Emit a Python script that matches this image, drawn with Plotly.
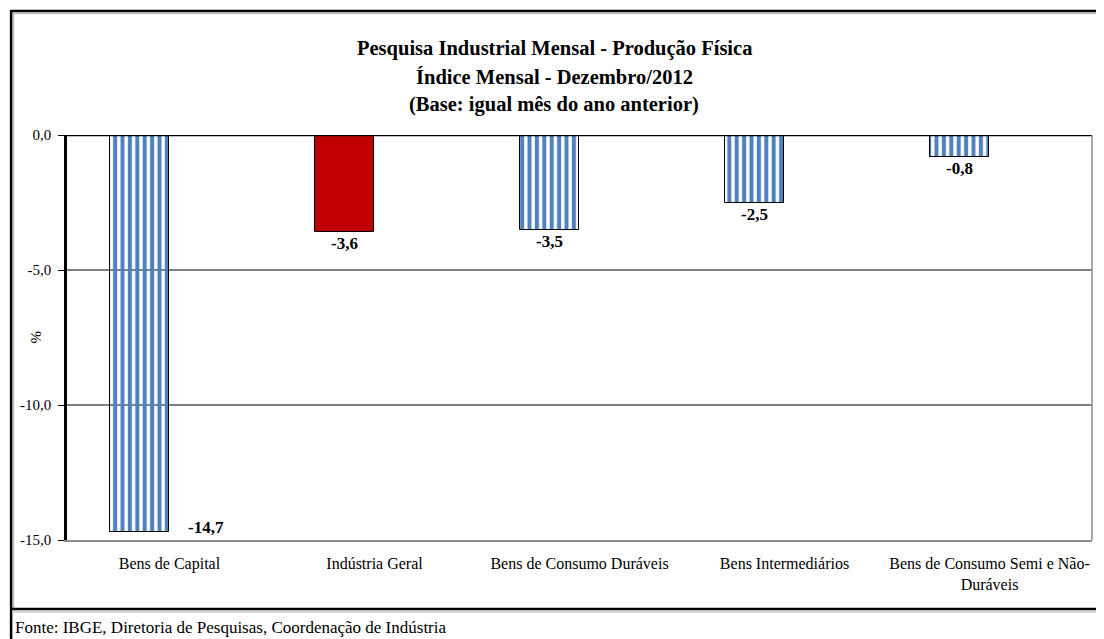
import plotly.graph_objects as go

# ---- data ----
categories = ["Bens de Capital", "Indústria Geral", "Bens de Consumo Duráveis",
              "Bens Intermediários", "Bens de Consumo Semi e Não-<br>Duráveis"]
values = [-14.7, -3.6, -3.5, -2.5, -0.8]
y_tick_vals = [0, -5, -10, -15]
y_tick_text = ["0,0", "-5,0", "-10,0", "-15,0"]
title_lines = ["Pesquisa Industrial Mensal - Produção Física",
               "Índice Mensal - Dezembro/2012",
               "(Base: igual mês do ano anterior)"]
source_text = "Fonte: IBGE, Diretoria de Pesquisas, Coordenação de Indústria"

# ---- styles ----
FONT = "Liberation Serif"
BLUE = "#4F81BD"
RED = "#C00000"
bar_colors = [BLUE, RED, BLUE, BLUE, BLUE]
bar_shapes = ["|", "", "|", "|", "|"]
BAR_W = 0.287
BAR_OFF = -0.29

OFF = 8  # page body margin
W, H = 1104 - OFF, 639 - OFF
L, R, T, B = 65 - OFF, 12, 135 - OFF, 99
PW, PH = W - L - R, H - T - B


def px(x):  # page pixel -> paper
    return (x - OFF - L) / PW


def py(y):  # page pixel -> paper
    return (H - B - (y - OFF)) / PH


y_min, y_max = min(y_tick_vals), max(y_tick_vals)
n = len(categories)

fig = go.Figure()
fig.add_trace(go.Bar(
    x=categories, y=values,
    width=BAR_W, offset=BAR_OFF,
    marker=dict(color=bar_colors,
                line=dict(color="black", width=1),
                pattern=dict(shape=bar_shapes, bgcolor="white",
                             size=7.4, solidity=0.55, fillmode="replace")),
    showlegend=False, hoverinfo="skip",
))

annotations = []
for i, v in enumerate(values):
    lbl = f"{v:.1f}".replace(".", ",")
    if v - 1.0 < y_min:
        annotations.append(dict(x=i + BAR_OFF + BAR_W, y=v, xref="x", yref="y",
                                text=f"<b>{lbl}</b>", showarrow=False,
                                xanchor="left", yanchor="middle", xshift=17, yshift=4,
                                font=dict(family=FONT, size=17, color="black")))
    else:
        annotations.append(dict(x=i + BAR_OFF + BAR_W / 2, y=v, xref="x", yref="y",
                                text=f"<b>{lbl}</b>", showarrow=False,
                                xanchor="center", yanchor="top", yshift=0,
                                font=dict(family=FONT, size=17, color="black")))
for yy, line in zip([48, 77, 105], title_lines):
    annotations.append(dict(x=px(553), y=py(yy), xref="paper", yref="paper",
                            text=f"<b>{line}</b>", showarrow=False,
                            xanchor="center", yanchor="middle",
                            font=dict(family=FONT, size=20.5, color="black")))
annotations.append(dict(x=px(33), y=0.5, xref="paper", yref="paper", text="%",
                        textangle=-90, showarrow=False, xanchor="center", yanchor="middle",
                        font=dict(family=FONT, size=15, color="black")))
annotations.append(dict(x=px(11), y=py(627), xref="paper", yref="paper", text=source_text,
                        showarrow=False, xanchor="left", yanchor="middle",
                        font=dict(family=FONT, size=17, color="black")))

shapes = []
for gv in y_tick_vals:
    if gv not in (y_min, y_max):
        shapes.append(dict(type="line", xref="paper", yref="y", x0=0, x1=1, y0=gv, y1=gv,
                           line=dict(color="black", width=1.2), layer="below"))
shapes.append(dict(type="line", xref="paper", yref="y", x0=0, x1=1, y0=y_max, y1=y_max,
                   line=dict(color="black", width=2.5), layer="above"))
shapes.append(dict(type="line", xref="paper", yref="paper", x0=1, x1=1, y0=0, y1=1,
                   line=dict(color="#8c8c8c", width=1.5)))
# outer frame
shapes.append(dict(type="line", xref="paper", yref="paper", x0=px(9), x1=px(1110),
                   y0=py(11), y1=py(11), line=dict(color="black", width=2.5)))
shapes.append(dict(type="line", xref="paper", yref="paper", x0=px(10), x1=px(1110),
                   y0=py(13.5), y1=py(13.5), line=dict(color="#b0b0b0", width=1)))
shapes.append(dict(type="line", xref="paper", yref="paper", x0=px(9), x1=px(9),
                   y0=py(10), y1=py(645), line=dict(color="black", width=2.5)))
shapes.append(dict(type="line", xref="paper", yref="paper", x0=px(11.5), x1=px(11.5),
                   y0=py(13), y1=py(608), line=dict(color="#b0b0b0", width=1)))
shapes.append(dict(type="line", xref="paper", yref="paper", x0=px(9), x1=px(1110),
                   y0=py(609), y1=py(609), line=dict(color="black", width=2.5)))
shapes.append(dict(type="line", xref="paper", yref="paper", x0=px(10), x1=px(1110),
                   y0=py(612), y1=py(612), line=dict(color="#c8c8c8", width=1.5)))

fig.update_layout(
    width=W, height=H,
    margin=dict(l=L, r=R, t=T, b=B, pad=0),
    paper_bgcolor="white", plot_bgcolor="white",
    font=dict(family=FONT, size=14, color="black"),
    bargap=0,
    xaxis=dict(type="category", categoryorder="array", categoryarray=categories,
               range=[-0.5, n - 0.5], showgrid=False, zeroline=False,
               showline=True, linecolor="#8c8c8c", linewidth=1.5,
               ticks="", tickfont=dict(family=FONT, size=16, color="black"),
               ticklabelstandoff=8, fixedrange=True),
    xaxis2=dict(overlaying="x", side="top", anchor="y", range=[-0.5, n - 0.5],
                tickmode="array", tickvals=[i + 0.5 for i in range(n - 1)],
                ticks="inside", ticklen=4, tickcolor="black", tickwidth=1,
                showticklabels=False, showgrid=False, zeroline=False, showline=False),
    yaxis=dict(range=[y_min, y_max], tickmode="array", tickvals=y_tick_vals,
               ticktext=y_tick_text, showgrid=False, zeroline=False,
               showline=True, linecolor="black", linewidth=2.5,
               ticks="outside", ticklen=6, tickcolor="black", tickwidth=1,
               ticklabelstandoff=4,
               tickfont=dict(family=FONT, size=15, color="black"), fixedrange=True),
    annotations=annotations, shapes=shapes,
)

fig.write_html("out.html")
